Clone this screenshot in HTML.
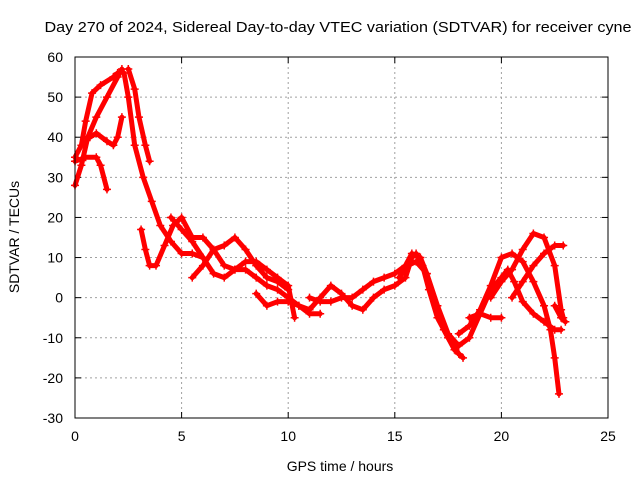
<!DOCTYPE html>
<html><head><meta charset="utf-8"><style>
body{margin:0;background:#fff;}
svg{display:block;font-family:"Liberation Sans",sans-serif;}
</style></head><body>
<svg id="chart" width="640" height="480">
<text x="338" y="32" font-size="15" text-anchor="middle" textLength="587" lengthAdjust="spacingAndGlyphs">Day 270 of 2024, Sidereal Day-to-day VTEC variation (SDTVAR) for receiver cyne</text>
<text x="340" y="471" font-size="14" text-anchor="middle">GPS time / hours</text>
<text transform="translate(19,237) rotate(-90)" font-size="14" text-anchor="middle">SDTVAR / TECUs</text>
<g id="grid"></g>
<g id="ticks"></g>
<g id="series"></g>
<rect x="75" y="57" width="533" height="361" fill="none" stroke="#000"/>
</svg>
<script>
const xTicks=[0,5,10,15,20,25];
const yTicks=[-30,-20,-10,0,10,20,30,40,50,60];
const T1=[[0,28],[0.3,33],[0.6,40],[1,45],[1.5,50],[2,55],[2.2,57]];
const T2=[[0,35],[0.3,38],[0.5,44],[0.8,51],[1.2,53],[1.8,55],[2.0,56]];
const T3=[[0,34],[0.5,35],[1,35],[1.2,33],[1.5,27]];
const T4=[[0.7,40],[1,41],[1.5,39],[1.8,38],[2,40],[2.2,45]];
const T5=[[2.5,57],[2.8,52],[3.0,45],[3.3,38],[3.5,34]];
const T6=[[2.3,56],[2.5,50],[2.8,38],[3.2,30],[3.6,24],[4,18],[4.5,14],[5,11],[5.5,11],[6,10]];
const T7=[[3.1,17],[3.3,12],[3.5,8],[3.8,8],[4.2,13],[4.6,18],[5,20],[5.5,15],[6,15],[6.5,12],[7,8],[7.5,7],[8,7],[8.5,5],[9,3],[9.5,2],[10,0],[10.5,-2],[11,-4],[11.5,-4]];
const T8=[[4.5,20],[5,17],[5.5,14],[6,10],[6.5,6],[7,5],[7.5,7],[8,9],[8.5,9],[9,7],[9.5,5],[10,3],[10.3,-5]];
const T9=[[5.5,5],[6,8],[6.5,12],[7,13],[7.5,15],[8,12],[8.5,8],[9,5],[9.5,4],[10,2]];
const T10=[[8.5,1],[9,-2],[9.5,-1],[10,-1],[10.5,-2],[11,-3],[11.5,0],[12,3],[12.5,1],[13,-2],[13.5,-3],[14,0],[14.5,2],[15,3],[15.5,5],[15.8,10],[16,11],[16.3,8],[16.6,2],[17,-5],[17.5,-10],[18,-14]];
const T11=[[11,0],[11.5,-1],[12,-1],[12.5,0],[13,0],[13.5,2],[14,4],[14.5,5],[15,6],[15.5,8],[15.8,11],[16.2,10],[16.5,6],[16.8,0],[17.3,-8],[17.8,-13],[18.2,-15]];
const T12=[[15.2,5],[15.6,8],[16,9],[16.5,6],[17,-2],[17.5,-9],[18,-12],[18.5,-10],[19,-4],[19.5,2],[20,5],[20.3,7],[20.6,4],[21,-1],[21.5,-4],[22,-6],[22.5,-8],[22.8,-8]];
const T13=[[18,-9],[18.5,-7],[19,-3],[19.5,3],[20,10],[20.5,11],[21,9],[21.5,4],[22,-2],[22.3,-8],[22.5,-15],[22.7,-24]];
const T14=[[18.5,-5],[19,-4],[19.5,-5],[20,-5]];
const T15=[[19.5,0],[20,4],[20.5,7],[21,12],[21.5,16],[22,15],[22.5,8],[22.8,-3],[22.9,-5]];
const T16=[[20.5,0],[21,4],[21.5,8],[22,11],[22.5,13],[22.9,13]];
const T17=[[22.5,-2],[22.8,-5],[23,-6]];
const tracks=[T1,T2,T3,T4,T5,T6,T7,T8,T9,T10,T11,T12,T13,T14,T15,T16,T17];
const NS="http://www.w3.org/2000/svg";
const X0=75,X1=608,Y0=418,Y1=57;
const xs=v=>X0+(v-0)/25*(X1-X0);
const ys=v=>Y0-(v+30)/90*(Y0-Y1);
function mk(tag,attrs,parent){const e=document.createElementNS(NS,tag);for(const k in attrs)e.setAttribute(k,attrs[k]);parent.appendChild(e);return e;}
const grid=document.getElementById('grid'),ticks=document.getElementById('ticks'),series=document.getElementById('series');
xTicks.forEach(t=>{
  const x=xs(t);
  if(t>0&&t<25){const g=mk('line',{x1:x,x2:x,y1:Y1,y2:Y0,stroke:'#a0a0a0','stroke-dasharray':'2,3'},grid);
  
  }
  mk('line',{x1:x,x2:x,y1:Y0,y2:Y0-6,stroke:'#000'},ticks);
  mk('line',{x1:x,x2:x,y1:Y1,y2:Y1+6,stroke:'#000'},ticks);
  const l=mk('text',{x:x,y:Y0+23,'font-size':14,'text-anchor':'middle'},ticks);l.textContent=t;
  
  
});
yTicks.forEach(t=>{
  const y=ys(t);
  if(t>-30&&t<60){const g=mk('line',{x1:X0,x2:X1,y1:y,y2:y,stroke:'#a0a0a0','stroke-dasharray':'2,3'},grid);
  
  }
  mk('line',{x1:X0,x2:X0+6,y1:y,y2:y,stroke:'#000'},ticks);
  mk('line',{x1:X1,x2:X1-6,y1:y,y2:y,stroke:'#000'},ticks);
  const l=mk('text',{x:X0-12,y:y+5,'font-size':14,'text-anchor':'end'},ticks);l.textContent=t;
  
  
});
tracks.forEach((tr,i)=>{
  const p=mk('polyline',{points:tr.map(d=>xs(d[0])+','+ys(d[1])).join(' '),fill:'none',stroke:'#f00','stroke-width':5,'stroke-linejoin':'round','stroke-linecap':'round'},series);
  
  
  tr.forEach(d=>{
    const x=xs(d[0]),y=ys(d[1]);
    const m=mk('path',{d:`M${x-4},${y}H${x+4}M${x},${y-4}V${y+4}`,stroke:'#f00','stroke-width':1.5},series);
    
    
  });
});
</script>
</body></html>
